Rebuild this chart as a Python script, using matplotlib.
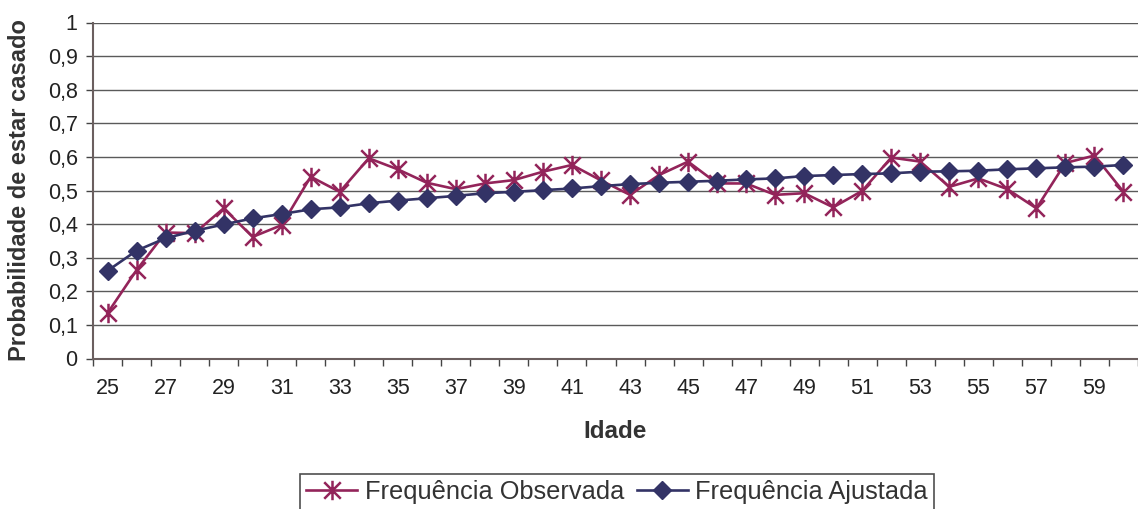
import matplotlib
matplotlib.use("Agg")
import matplotlib.pyplot as plt
from matplotlib.path import Path
import numpy as np

ages = list(range(25, 61))
observed = [0.135, 0.263, 0.375, 0.373, 0.447, 0.362, 0.397, 0.541, 0.496, 0.596,
            0.563, 0.523, 0.504, 0.521, 0.531, 0.556, 0.576, 0.530, 0.487, 0.546,
            0.586, 0.521, 0.521, 0.487, 0.492, 0.450, 0.499, 0.598, 0.586, 0.511,
            0.536, 0.504, 0.447, 0.582, 0.604, 0.496]
fitted = [0.261, 0.321, 0.358, 0.380, 0.399, 0.417, 0.430, 0.444, 0.450, 0.462,
          0.470, 0.477, 0.484, 0.492, 0.496, 0.501, 0.506, 0.513, 0.519, 0.523,
          0.526, 0.529, 0.533, 0.536, 0.543, 0.546, 0.549, 0.551, 0.556, 0.557,
          0.559, 0.563, 0.566, 0.569, 0.571, 0.576]
yticks = [0, 0.1, 0.2, 0.3, 0.4, 0.5, 0.6, 0.7, 0.8, 0.9, 1.0]
ytick_labels = ["0", "0,1", "0,2", "0,3", "0,4", "0,5", "0,6", "0,7", "0,8", "0,9", "1"]

plt.rcParams['font.family'] = ['Liberation Sans', 'DejaVu Sans']

fig = plt.figure(figsize=(11.38, 5.09), dpi=100)
ax = fig.add_axes([93/1138, 1 - 358.5/509, (1138 - 93)/1138, 336/509])

x = np.arange(len(ages))
star = Path([(0, -1), (0, 1), (-0.85, -0.85), (0.85, 0.85), (-0.85, 0.85), (0.85, -0.85)],
            [Path.MOVETO, Path.LINETO, Path.MOVETO, Path.LINETO, Path.MOVETO, Path.LINETO])

c_obs = '#93245a'
c_fit = '#333366'
ax.plot(x, observed, color=c_obs, lw=1.9, marker=star, markersize=14,
        markeredgewidth=1.8, markeredgecolor=c_obs, label='Frequência Observada', zorder=3)
ax.plot(x, fitted, color=c_fit, lw=1.9, marker='D', markersize=9.5,
        markerfacecolor=c_fit, markeredgecolor=c_fit, label='Frequência Ajustada', zorder=4)

ax.set_xlim(-0.5, len(ages) - 0.5)
ax.set_ylim(0, 1)
ax.set_yticks(yticks)
ax.set_yticklabels(ytick_labels)
ax.set_xticks(x[::2])
ax.set_xticklabels([str(a) for a in ages[::2]])
ax.set_xticks(np.arange(-0.5, len(ages) + 0.5, 1), minor=True)
ax.tick_params(axis='x', which='major', length=0, pad=14, labelsize=15.5, colors='#222222')
ax.tick_params(axis='x', which='minor', length=5, width=1, color='#444444', direction='out')
ax.tick_params(axis='y', which='major', length=5, width=1, color='#444444', direction='out',
               labelsize=15.5, labelcolor='#222222', pad=6)

for v in yticks[1:]:
    ax.axhline(v, color='#5a5a5a', lw=1, zorder=1)

for s in ['top', 'right']:
    ax.spines[s].set_visible(False)
for s in ['left', 'bottom']:
    ax.spines[s].set_color('#6b5f5f')
    ax.spines[s].set_linewidth(1.5)

ax.set_xlabel('Idade', fontsize=17.5, fontweight='bold', color='#333333')
ax.xaxis.set_label_coords(0.5, 1 - (432 - 22.5) / 336, transform=ax.transAxes)
ax.xaxis.label.set_va('center')
ax.set_ylabel('Probabilidade de estar casado', fontsize=17, fontweight='bold', color='#333333')
ax.yaxis.set_label_coords((20 - 93) / 1045, 0.5, transform=ax.transAxes)
ax.yaxis.label.set_va('center')

leg = fig.legend(loc='upper center', bbox_to_anchor=(617/1138, 1 - 474/509), ncol=2,
                 fontsize=18.3, frameon=True, fancybox=False, edgecolor='#222222',
                 handlelength=2.0, columnspacing=0.5, handletextpad=0.3, borderpad=0.25,
                 borderaxespad=0)
leg.get_frame().set_linewidth(1.2)
for t in leg.get_texts():
    t.set_color('#333333')

fig.savefig('out.png', dpi=100)
